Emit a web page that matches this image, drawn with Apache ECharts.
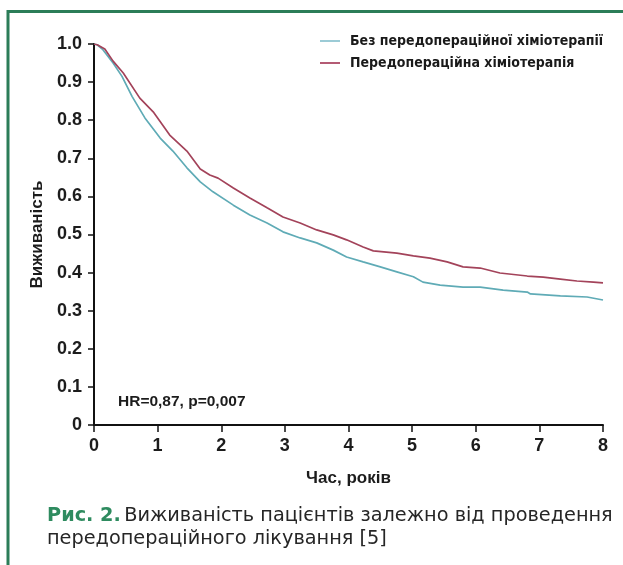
<!DOCTYPE html>
<html>
<head>
<meta charset="utf-8">
<script src="https://cdn.jsdelivr.net/npm/echarts@6/dist/echarts.min.js"></script>
<style>
html,body{margin:0;padding:0;background:#fff;}
#chart{width:623px;height:565px;}
</style>
</head>
<body>
<div id="chart"></div>
<script>
// ---- data ----
const seriesNames = ['Без передопераційної хіміотерапії', 'Передопераційна хіміотерапія'];

const noChemoTime = [0, 0.05, 0.14, 0.3, 0.44, 0.6, 0.8, 1.04, 1.24, 1.46, 1.67, 1.87, 2.19, 2.45, 2.72, 2.97, 3.24, 3.5, 3.76, 3.97, 4.23, 4.5, 4.76, 5.02, 5.17, 5.44, 5.8, 6.07, 6.43, 6.81, 6.86, 7.33, 7.75, 8.0];
const noChemoSurv = [1.0, 0.998, 0.985, 0.95, 0.915, 0.862, 0.806, 0.753, 0.719, 0.675, 0.638, 0.612, 0.577, 0.551, 0.530, 0.507, 0.491, 0.478, 0.459, 0.441, 0.428, 0.415, 0.402, 0.389, 0.375, 0.367, 0.362, 0.362, 0.354, 0.349, 0.344, 0.339, 0.336, 0.328];

const chemoTime = [0, 0.05, 0.17, 0.3, 0.46, 0.72, 0.93, 1.19, 1.46, 1.67, 1.82, 1.95, 2.19, 2.45, 2.72, 2.97, 3.24, 3.5, 3.76, 3.97, 4.23, 4.39, 4.76, 5.02, 5.28, 5.55, 5.8, 6.07, 6.38, 6.81, 7.06, 7.33, 7.59, 7.85, 8.0];
const chemoSurv = [1.0, 0.998, 0.987, 0.955, 0.924, 0.858, 0.822, 0.761, 0.719, 0.672, 0.656, 0.648, 0.622, 0.596, 0.570, 0.546, 0.530, 0.512, 0.499, 0.486, 0.467, 0.457, 0.451, 0.444, 0.438, 0.428, 0.415, 0.412, 0.399, 0.391, 0.388, 0.383, 0.378, 0.375, 0.373];

const xTicks = [0, 1, 2, 3, 4, 5, 6, 7, 8];
const yTickLabels = ['0', '0.1', '0.2', '0.3', '0.4', '0.5', '0.6', '0.7', '0.8', '0.9', '1.0'];

const xName = 'Час, років';
const yName = 'Виживаність';
const statText = 'HR=0,87, p=0,007';
const captionLabel = 'Рис. 2.';
const captionLine1 = 'Виживаність пацієнтів залежно від проведення';
const captionLine2 = 'передопераційного лікування [5]';

// ---- build ----
const pairs = (xs, ys) => xs.map((x, i) => [x, ys[i]]);
const colors = ['#5fabb6', '#a3435a'];
const green = '#2b7d58';
const labelFont = {fontFamily: 'Liberation Sans', fontWeight: 'bold', fontSize: 17, color: '#1c1c1c'};

const chart = echarts.init(document.getElementById('chart'), null, {renderer: 'canvas'});
chart.setOption({
  animation: false,
  backgroundColor: '#ffffff',
  grid: {left: 94, right: 20, top: 44, bottom: 140, containLabel: false},
  legend: {
    orient: 'vertical', left: 320, top: 34, itemWidth: 20, itemHeight: 2, itemGap: 8, padding: 0,
    icon: 'rect',
    data: [
      {name: seriesNames[0], itemStyle: {color: '#9ccbd6'}},
      {name: seriesNames[1], itemStyle: {color: '#b45b74'}}
    ],
    textStyle: {fontFamily: '"DejaVu Sans Condensed", "Liberation Sans"', fontWeight: 'bold', fontSize: 14, color: '#1a1a1a', padding: [0, 0, 0, 5]}
  },
  xAxis: {
    type: 'value', min: 0, max: 8, interval: 1,
    name: xName, nameLocation: 'middle', nameGap: 45,
    nameTextStyle: Object.assign({}, labelFont),
    axisLine: {show: true, onZero: false, lineStyle: {color: '#111', width: 2}},
    axisTick: {show: true, length: 7, lineStyle: {color: '#111', width: 1.5}},
    axisLabel: Object.assign({margin: 12, formatter: v => String(v)}, labelFont, {fontSize: 18}),
    splitLine: {show: false}
  },
  yAxis: {
    type: 'value', min: 0, max: 1, interval: 0.1,
    name: yName, nameLocation: 'middle', nameGap: 48, nameRotate: 90,
    nameTextStyle: Object.assign({}, labelFont),
    axisLine: {show: true, onZero: false, lineStyle: {color: '#111', width: 2}},
    axisTick: {show: true, length: 6, lineStyle: {color: '#111', width: 1.5}},
    axisLabel: Object.assign({margin: 12, formatter: v => yTickLabels[Math.round(v * 10)]}, labelFont, {fontSize: 18}),
    splitLine: {show: false}
  },
  series: [
    {name: seriesNames[0], type: 'line', data: pairs(noChemoTime, noChemoSurv), showSymbol: false, symbol: 'none',
     lineStyle: {color: colors[0], width: 1.7}, itemStyle: {color: colors[0]}},
    {name: seriesNames[1], type: 'line', data: pairs(chemoTime, chemoSurv), showSymbol: false, symbol: 'none',
     lineStyle: {color: colors[1], width: 1.7}, itemStyle: {color: colors[1]}}
  ],
  graphic: [
    {type: 'line', shape: {x1: 8, y1: 11.5, x2: 623, y2: 11.5}, style: {stroke: green, lineWidth: 3}},
    {type: 'line', shape: {x1: 8, y1: 10, x2: 8, y2: 565}, style: {stroke: green, lineWidth: 3}},
    {type: 'text', left: 118, top: 394, style: {text: statText, fontFamily: 'Liberation Sans', fontWeight: 'bold', fontSize: 15.5, fill: '#1c1c1c'}},
    {type: 'text', left: 47, top: 506, style: {
      text: '{g|' + captionLabel + '} {n|' + captionLine1 + '}\n{n|' + captionLine2 + '}',
      rich: {
        g: {fontFamily: 'DejaVu Sans', fontWeight: 'bold', fontSize: 19.3, fill: '#2e8b5f', lineHeight: 23},
        n: {fontFamily: 'DejaVu Sans', fontSize: 19.3, fill: '#262626', lineHeight: 23}
      }
    }}
  ]
});
</script>
</body>
</html>
